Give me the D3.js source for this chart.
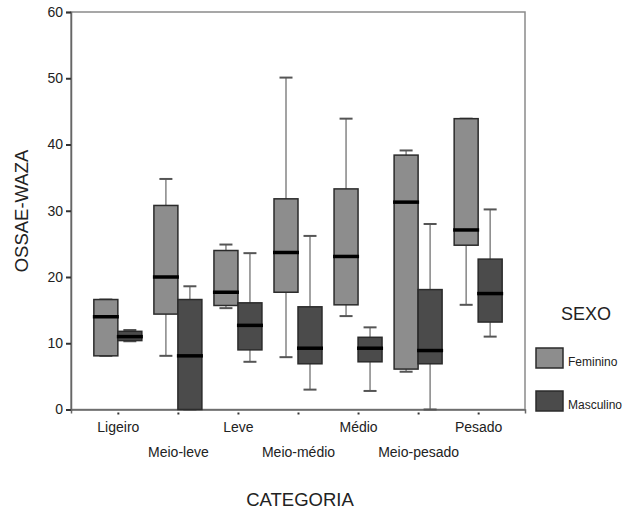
<!DOCTYPE html>
<html lang="pt">
<head>
<meta charset="utf-8">
<script src="https://cdn.jsdelivr.net/npm/d3@7"></script>
<style>
body { margin: 0; background: #fff; }
svg { font-family: "Liberation Sans", Arial, sans-serif; }
</style>
</head>
<body>
<script>
// categories and tick labels
var categories = ["Ligeiro", "Meio-leve", "Leve", "Meio-médio", "Médio", "Meio-pesado", "Pesado"];
var yTicks = [0, 10, 20, 30, 40, 50, 60];
var sexos = ["Feminino", "Masculino"];

// Feminino: min, q1, mediana, q3, max
var femMin = [8.1, 8.1, 15.3, 7.9, 14.1, 5.7, 15.8];
var femQ1  = [8.1, 14.4, 15.7, 17.7, 15.8, 6.1, 24.8];
var femMed = [14.0, 20.0, 17.7, 23.7, 23.1, 31.3, 27.1];
var femQ3  = [16.6, 30.8, 24.0, 31.8, 33.3, 38.4, 43.9];
var femMax = [16.6, 34.8, 24.9, 50.1, 43.9, 39.1, 43.9];

// Masculino
var mascMin = [10.3, 0, 7.2, 3.0, 2.8, 0, 11.0];
var mascQ1  = [10.4, 0, 9.0, 6.9, 7.2, 6.9, 13.2];
var mascMed = [11.0, 8.1, 12.7, 9.25, 9.25, 8.9, 17.5];
var mascQ3  = [11.8, 16.6, 16.1, 15.5, 10.9, 18.1, 22.7];
var mascMax = [12.0, 18.6, 23.6, 26.2, 12.4, 28.0, 30.2];

var w = 635, h = 511;
// plot area (note: "top" is reserved on window, so use other names)
var plotLeft = 71, plotRight = 525, plotTop = 12, plotBottom = 409.5;
var colors = {"Feminino": "#8d8d8d", "Masculino": "#4b4b4b"};

var svg = d3.select("body").append("svg")
  .attr("width", w)
  .attr("height", h);

var x = d3.scalePoint()
  .domain(categories)
  .range([plotLeft, plotRight])
  .padding(0.78);

var y = d3.scaleLinear()
  .domain([0, 60])
  .range([plotBottom, plotTop]);

var sub = d3.scaleBand()
  .domain(sexos)
  .range([-24, 24]);

// build rows for the boxes
var boxes = [];
categories.forEach(function(c, i) {
  boxes.push({cat: c, sexo: "Feminino", min: femMin[i], q1: femQ1[i], med: femMed[i], q3: femQ3[i], max: femMax[i]});
  boxes.push({cat: c, sexo: "Masculino", min: mascMin[i], q1: mascQ1[i], med: mascMed[i], q3: mascQ3[i], max: mascMax[i]});
});

// frame
svg.append("rect")
  .attr("x", plotLeft)
  .attr("y", plotTop)
  .attr("width", plotRight - plotLeft)
  .attr("height", plotBottom - plotTop)
  .attr("fill", "none")
  .attr("stroke", "#8a8a8a")
  .attr("stroke-width", 1.5);

// y axis
var yAxis = svg.append("g")
  .attr("transform", "translate(" + plotLeft + ",0)")
  .call(d3.axisLeft(y).tickValues(yTicks).tickSize(5).tickPadding(3));
yAxis.select(".domain").attr("stroke", "#666").attr("stroke-width", 1.5);
yAxis.selectAll(".tick line").attr("stroke", "#333").attr("stroke-width", 2);
yAxis.selectAll("text").attr("font-size", "14px").attr("fill", "#222");

// x axis, labels on two staggered rows
var xAxis = svg.append("g")
  .attr("transform", "translate(0," + plotBottom + ")")
  .call(d3.axisBottom(x).tickSize(4).tickPadding(10));
xAxis.select(".domain").attr("stroke", "#666").attr("stroke-width", 1.5);
xAxis.selectAll(".tick line").attr("stroke", "#333").attr("stroke-width", 2)
  .attr("y1", 3).attr("y2", 5);
xAxis.selectAll("text")
  .attr("font-size", "14px")
  .attr("fill", "#222")
  .attr("dy", function(d, i) { return i % 2 ? "33.5px" : "8.5px"; });

var g = svg.selectAll(".box")
  .data(boxes)
  .enter()
  .append("g")
  .attr("class", "box")
  .attr("transform", function(d) { return "translate(" + (x(d.cat) + sub(d.sexo)) + ",0)"; });

var bw = sub.bandwidth();

// whiskers
g.append("line")
  .attr("x1", bw / 2).attr("x2", bw / 2)
  .attr("y1", function(d) { return y(d.max); })
  .attr("y2", function(d) { return y(d.min); })
  .attr("stroke", "#858585")
  .attr("stroke-width", 1.5);

g.append("line")
  .attr("x1", bw / 2 - 6.5).attr("x2", bw / 2 + 6.5)
  .attr("y1", function(d) { return y(d.max); })
  .attr("y2", function(d) { return y(d.max); })
  .attr("stroke", "#555")
  .attr("stroke-width", 2);

g.append("line")
  .attr("x1", bw / 2 - 6.5).attr("x2", bw / 2 + 6.5)
  .attr("y1", function(d) { return y(d.min); })
  .attr("y2", function(d) { return y(d.min); })
  .attr("stroke", "#555")
  .attr("stroke-width", 2);

// boxes
g.append("rect")
  .attr("x", 0)
  .attr("width", bw)
  .attr("y", function(d) { return y(d.q3); })
  .attr("height", function(d) { return y(d.q1) - y(d.q3); })
  .attr("fill", function(d) { return colors[d.sexo]; })
  .attr("stroke", "#2b2b2b")
  .attr("stroke-width", 1.5);

// medians
g.append("line")
  .attr("x1", -1).attr("x2", bw + 1)
  .attr("y1", function(d) { return y(d.med); })
  .attr("y2", function(d) { return y(d.med); })
  .attr("stroke", "#000")
  .attr("stroke-width", 3.5);

// axis titles
svg.append("text")
  .attr("transform", "translate(28,211) rotate(-90)")
  .attr("text-anchor", "middle")
  .attr("font-size", "18.5px")
  .attr("fill", "#222")
  .text("OSSAE-WAZA");

svg.append("text")
  .attr("x", 300)
  .attr("y", 506)
  .attr("text-anchor", "middle")
  .attr("font-size", "18.5px")
  .attr("fill", "#222")
  .text("CATEGORIA");

// legend
var legend = svg.append("g");
legend.append("text")
  .attr("x", 586)
  .attr("y", 320)
  .attr("text-anchor", "middle")
  .attr("font-size", "18px")
  .attr("fill", "#222")
  .text("SEXO");

var items = legend.selectAll(".item")
  .data(sexos)
  .enter()
  .append("g")
  .attr("class", "item")
  .attr("transform", function(d, i) { return "translate(536," + (348 + i * 43) + ")"; });

items.append("rect")
  .attr("width", 27)
  .attr("height", 20)
  .attr("fill", function(d) { return colors[d]; })
  .attr("stroke", "#2b2b2b")
  .attr("stroke-width", 1.5);

items.append("text")
  .attr("x", 32)
  .attr("y", 18)
  .attr("font-size", "12px")
  .attr("fill", "#222")
  .text(function(d) { return d; });
</script>
</body>
</html>
